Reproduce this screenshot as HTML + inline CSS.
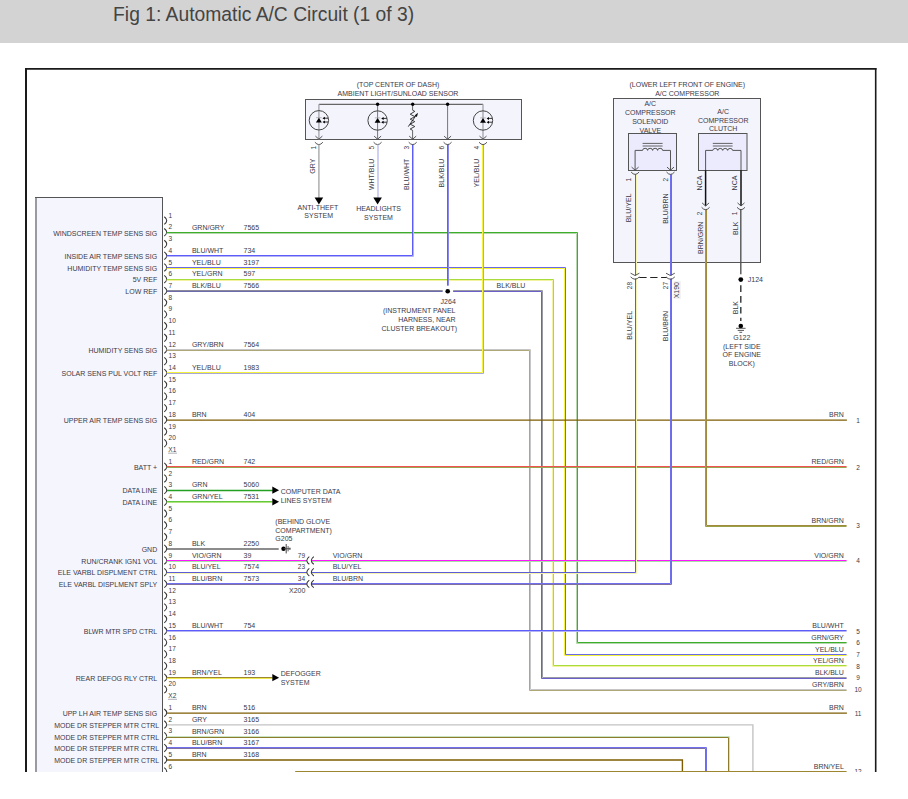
<!DOCTYPE html>
<html><head><meta charset="utf-8"><title>Fig 1: Automatic A/C Circuit (1 of 3)</title>
<style>
html,body{margin:0;padding:0;background:#fff;}
body{width:908px;height:799px;overflow:hidden;font-family:"Liberation Sans",sans-serif;}
svg{display:block;}
text{font-family:"Liberation Sans",sans-serif;}
</style></head>
<body>
<svg width="908" height="799" viewBox="0 0 908 799" font-family="Liberation Sans, sans-serif">
<defs><clipPath id="clip"><rect x="0" y="0" width="908" height="772"/></clipPath></defs>
<rect x="0" y="0" width="908" height="42.6" fill="#d3d3d3"/>
<rect x="0" y="42" width="908" height="0.6" fill="#c8c8c8"/>
<text x="113.1" y="21" font-size="19.3" fill="#444">Fig 1: Automatic A/C Circuit (1 of 3)</text>
<g clip-path="url(#clip)">
<line x1="26" y1="68" x2="26" y2="772" stroke="#1a1a1a" stroke-width="2"/>
<line x1="875.7" y1="68" x2="875.7" y2="772" stroke="#1a1a1a" stroke-width="1.6"/>
<line x1="25" y1="68.8" x2="876.5" y2="68.8" stroke="#1a1a1a" stroke-width="1.7"/>
<rect x="36" y="197.5" width="126.5" height="600" fill="#f5f5fd" stroke="none"/>
<line x1="36" y1="197" x2="36" y2="800" stroke="#9a9aa2" stroke-width="2"/>
<line x1="35" y1="197.5" x2="163" y2="197.5" stroke="#555" stroke-width="1"/>
<line x1="162.5" y1="197" x2="162.5" y2="800" stroke="#555" stroke-width="1"/>
<rect x="305.5" y="99.5" width="216" height="40" fill="#f4f4fd" stroke="#555" stroke-width="1"/>
<rect x="613.5" y="98.5" width="147" height="164" fill="#f4f4fd" stroke="#555" stroke-width="1"/>
<path d="M164.3,216.78 Q169.2,220.58 164.3,224.38" fill="none" stroke="#333" stroke-width="1.05"/>
<text x="168.6" y="217.68" font-size="6.5" text-anchor="start" fill="#3a3a48">1</text>
<path d="M164.3,228.5 Q169.2,232.3 164.3,236.1" fill="none" stroke="#333" stroke-width="1.05"/>
<text x="168.6" y="229.4" font-size="6.5" text-anchor="start" fill="#3a3a48">2</text>
<path d="M164.3,240.22 Q169.2,244.02 164.3,247.82" fill="none" stroke="#333" stroke-width="1.05"/>
<text x="168.6" y="241.12" font-size="6.5" text-anchor="start" fill="#3a3a48">3</text>
<path d="M164.3,251.94 Q169.2,255.74 164.3,259.54" fill="none" stroke="#333" stroke-width="1.05"/>
<text x="168.6" y="252.84" font-size="6.5" text-anchor="start" fill="#3a3a48">4</text>
<path d="M164.3,263.66 Q169.2,267.46 164.3,271.26" fill="none" stroke="#333" stroke-width="1.05"/>
<text x="168.6" y="264.56" font-size="6.5" text-anchor="start" fill="#3a3a48">5</text>
<path d="M164.3,275.38 Q169.2,279.18 164.3,282.98" fill="none" stroke="#333" stroke-width="1.05"/>
<text x="168.6" y="276.28" font-size="6.5" text-anchor="start" fill="#3a3a48">6</text>
<path d="M164.3,287.1 Q169.2,290.9 164.3,294.7" fill="none" stroke="#333" stroke-width="1.05"/>
<text x="168.6" y="288" font-size="6.5" text-anchor="start" fill="#3a3a48">7</text>
<path d="M164.3,298.82 Q169.2,302.62 164.3,306.42" fill="none" stroke="#333" stroke-width="1.05"/>
<text x="168.6" y="299.72" font-size="6.5" text-anchor="start" fill="#3a3a48">8</text>
<path d="M164.3,310.54 Q169.2,314.34 164.3,318.14" fill="none" stroke="#333" stroke-width="1.05"/>
<text x="168.6" y="311.44" font-size="6.5" text-anchor="start" fill="#3a3a48">9</text>
<path d="M164.3,322.26 Q169.2,326.06 164.3,329.86" fill="none" stroke="#333" stroke-width="1.05"/>
<text x="168.6" y="323.16" font-size="6.5" text-anchor="start" fill="#3a3a48">10</text>
<path d="M164.3,333.98 Q169.2,337.78 164.3,341.58" fill="none" stroke="#333" stroke-width="1.05"/>
<text x="168.6" y="334.88" font-size="6.5" text-anchor="start" fill="#3a3a48">11</text>
<path d="M164.3,345.7 Q169.2,349.5 164.3,353.3" fill="none" stroke="#333" stroke-width="1.05"/>
<text x="168.6" y="346.6" font-size="6.5" text-anchor="start" fill="#3a3a48">12</text>
<path d="M164.3,357.42 Q169.2,361.22 164.3,365.02" fill="none" stroke="#333" stroke-width="1.05"/>
<text x="168.6" y="358.32" font-size="6.5" text-anchor="start" fill="#3a3a48">13</text>
<path d="M164.3,369.14 Q169.2,372.94 164.3,376.74" fill="none" stroke="#333" stroke-width="1.05"/>
<text x="168.6" y="370.04" font-size="6.5" text-anchor="start" fill="#3a3a48">14</text>
<path d="M164.3,380.86 Q169.2,384.66 164.3,388.46" fill="none" stroke="#333" stroke-width="1.05"/>
<text x="168.6" y="381.76" font-size="6.5" text-anchor="start" fill="#3a3a48">15</text>
<path d="M164.3,392.58 Q169.2,396.38 164.3,400.18" fill="none" stroke="#333" stroke-width="1.05"/>
<text x="168.6" y="393.48" font-size="6.5" text-anchor="start" fill="#3a3a48">16</text>
<path d="M164.3,404.3 Q169.2,408.1 164.3,411.9" fill="none" stroke="#333" stroke-width="1.05"/>
<text x="168.6" y="405.2" font-size="6.5" text-anchor="start" fill="#3a3a48">17</text>
<path d="M164.3,416.02 Q169.2,419.82 164.3,423.62" fill="none" stroke="#333" stroke-width="1.05"/>
<text x="168.6" y="416.92" font-size="6.5" text-anchor="start" fill="#3a3a48">18</text>
<path d="M164.3,427.74 Q169.2,431.54 164.3,435.34" fill="none" stroke="#333" stroke-width="1.05"/>
<text x="168.6" y="428.64" font-size="6.5" text-anchor="start" fill="#3a3a48">19</text>
<path d="M164.3,439.46 Q169.2,443.26 164.3,447.06" fill="none" stroke="#333" stroke-width="1.05"/>
<text x="168.6" y="440.36" font-size="6.5" text-anchor="start" fill="#3a3a48">20</text>
<text x="168.3" y="451.88" font-size="6.5" text-anchor="start" fill="#3a3a48">X1</text>
<line x1="168" y1="453.18" x2="177" y2="453.18" stroke="#9a9aa8" stroke-width="0.8"/>
<path d="M164.3,462.9 Q169.2,466.7 164.3,470.5" fill="none" stroke="#333" stroke-width="1.05"/>
<text x="168.6" y="463.8" font-size="6.5" text-anchor="start" fill="#3a3a48">1</text>
<path d="M164.3,474.62 Q169.2,478.42 164.3,482.22" fill="none" stroke="#333" stroke-width="1.05"/>
<text x="168.6" y="475.52" font-size="6.5" text-anchor="start" fill="#3a3a48">2</text>
<path d="M164.3,486.34 Q169.2,490.14 164.3,493.94" fill="none" stroke="#333" stroke-width="1.05"/>
<text x="168.6" y="487.24" font-size="6.5" text-anchor="start" fill="#3a3a48">3</text>
<path d="M164.3,498.06 Q169.2,501.86 164.3,505.66" fill="none" stroke="#333" stroke-width="1.05"/>
<text x="168.6" y="498.96" font-size="6.5" text-anchor="start" fill="#3a3a48">4</text>
<path d="M164.3,509.78 Q169.2,513.58 164.3,517.38" fill="none" stroke="#333" stroke-width="1.05"/>
<text x="168.6" y="510.68" font-size="6.5" text-anchor="start" fill="#3a3a48">5</text>
<path d="M164.3,521.5 Q169.2,525.3 164.3,529.1" fill="none" stroke="#333" stroke-width="1.05"/>
<text x="168.6" y="522.4" font-size="6.5" text-anchor="start" fill="#3a3a48">6</text>
<path d="M164.3,533.22 Q169.2,537.02 164.3,540.82" fill="none" stroke="#333" stroke-width="1.05"/>
<text x="168.6" y="534.12" font-size="6.5" text-anchor="start" fill="#3a3a48">7</text>
<path d="M164.3,544.94 Q169.2,548.74 164.3,552.54" fill="none" stroke="#333" stroke-width="1.05"/>
<text x="168.6" y="545.84" font-size="6.5" text-anchor="start" fill="#3a3a48">8</text>
<path d="M164.3,556.66 Q169.2,560.46 164.3,564.26" fill="none" stroke="#333" stroke-width="1.05"/>
<text x="168.6" y="557.56" font-size="6.5" text-anchor="start" fill="#3a3a48">9</text>
<path d="M164.3,568.38 Q169.2,572.18 164.3,575.98" fill="none" stroke="#333" stroke-width="1.05"/>
<text x="168.6" y="569.28" font-size="6.5" text-anchor="start" fill="#3a3a48">10</text>
<path d="M164.3,580.1 Q169.2,583.9 164.3,587.7" fill="none" stroke="#333" stroke-width="1.05"/>
<text x="168.6" y="581" font-size="6.5" text-anchor="start" fill="#3a3a48">11</text>
<path d="M164.3,591.82 Q169.2,595.62 164.3,599.42" fill="none" stroke="#333" stroke-width="1.05"/>
<text x="168.6" y="592.72" font-size="6.5" text-anchor="start" fill="#3a3a48">12</text>
<path d="M164.3,603.54 Q169.2,607.34 164.3,611.14" fill="none" stroke="#333" stroke-width="1.05"/>
<text x="168.6" y="604.44" font-size="6.5" text-anchor="start" fill="#3a3a48">13</text>
<path d="M164.3,615.26 Q169.2,619.06 164.3,622.86" fill="none" stroke="#333" stroke-width="1.05"/>
<text x="168.6" y="616.16" font-size="6.5" text-anchor="start" fill="#3a3a48">14</text>
<path d="M164.3,626.98 Q169.2,630.78 164.3,634.58" fill="none" stroke="#333" stroke-width="1.05"/>
<text x="168.6" y="627.88" font-size="6.5" text-anchor="start" fill="#3a3a48">15</text>
<path d="M164.3,638.7 Q169.2,642.5 164.3,646.3" fill="none" stroke="#333" stroke-width="1.05"/>
<text x="168.6" y="639.6" font-size="6.5" text-anchor="start" fill="#3a3a48">16</text>
<path d="M164.3,650.42 Q169.2,654.22 164.3,658.02" fill="none" stroke="#333" stroke-width="1.05"/>
<text x="168.6" y="651.32" font-size="6.5" text-anchor="start" fill="#3a3a48">17</text>
<path d="M164.3,662.14 Q169.2,665.94 164.3,669.74" fill="none" stroke="#333" stroke-width="1.05"/>
<text x="168.6" y="663.04" font-size="6.5" text-anchor="start" fill="#3a3a48">18</text>
<path d="M164.3,673.86 Q169.2,677.66 164.3,681.46" fill="none" stroke="#333" stroke-width="1.05"/>
<text x="168.6" y="674.76" font-size="6.5" text-anchor="start" fill="#3a3a48">19</text>
<path d="M164.3,685.58 Q169.2,689.38 164.3,693.18" fill="none" stroke="#333" stroke-width="1.05"/>
<text x="168.6" y="686.48" font-size="6.5" text-anchor="start" fill="#3a3a48">20</text>
<text x="168.3" y="698" font-size="6.5" text-anchor="start" fill="#3a3a48">X2</text>
<line x1="168" y1="699.3" x2="177" y2="699.3" stroke="#9a9aa8" stroke-width="0.8"/>
<path d="M164.3,709.02 Q169.2,712.82 164.3,716.62" fill="none" stroke="#333" stroke-width="1.05"/>
<text x="168.6" y="709.92" font-size="6.5" text-anchor="start" fill="#3a3a48">1</text>
<path d="M164.3,720.74 Q169.2,724.54 164.3,728.34" fill="none" stroke="#333" stroke-width="1.05"/>
<text x="168.6" y="721.64" font-size="6.5" text-anchor="start" fill="#3a3a48">2</text>
<path d="M164.3,732.46 Q169.2,736.26 164.3,740.06" fill="none" stroke="#333" stroke-width="1.05"/>
<text x="168.6" y="733.36" font-size="6.5" text-anchor="start" fill="#3a3a48">3</text>
<path d="M164.3,744.18 Q169.2,747.98 164.3,751.78" fill="none" stroke="#333" stroke-width="1.05"/>
<text x="168.6" y="745.08" font-size="6.5" text-anchor="start" fill="#3a3a48">4</text>
<path d="M164.3,755.9 Q169.2,759.7 164.3,763.5" fill="none" stroke="#333" stroke-width="1.05"/>
<text x="168.6" y="756.8" font-size="6.5" text-anchor="start" fill="#3a3a48">5</text>
<path d="M164.3,767.62 Q169.2,771.42 164.3,775.22" fill="none" stroke="#333" stroke-width="1.05"/>
<text x="168.6" y="768.52" font-size="6.5" text-anchor="start" fill="#3a3a48">6</text>
<text x="157.2" y="235.6" font-size="7.0" text-anchor="end" fill="#3a3a48">WINDSCREEN TEMP SENS SIG</text>
<text x="157.2" y="259.04" font-size="7.0" text-anchor="end" fill="#3a3a48">INSIDE AIR TEMP SENS SIG</text>
<text x="157.2" y="270.76" font-size="7.0" text-anchor="end" fill="#3a3a48">HUMIDITY TEMP SENS SIG</text>
<text x="157.2" y="282.48" font-size="7.0" text-anchor="end" fill="#3a3a48">5V REF</text>
<text x="157.2" y="294.2" font-size="7.0" text-anchor="end" fill="#3a3a48">LOW REF</text>
<text x="157.2" y="352.8" font-size="7.0" text-anchor="end" fill="#3a3a48">HUMIDITY SENS SIG</text>
<text x="157.2" y="376.24" font-size="7.0" text-anchor="end" fill="#3a3a48">SOLAR SENS PUL VOLT REF</text>
<text x="157.2" y="423.12" font-size="7.0" text-anchor="end" fill="#3a3a48">UPPER AIR TEMP SENS SIG</text>
<text x="157.2" y="470" font-size="7.0" text-anchor="end" fill="#3a3a48">BATT +</text>
<text x="157.2" y="493.44" font-size="7.0" text-anchor="end" fill="#3a3a48">DATA LINE</text>
<text x="157.2" y="505.16" font-size="7.0" text-anchor="end" fill="#3a3a48">DATA LINE</text>
<text x="157.2" y="552.04" font-size="7.0" text-anchor="end" fill="#3a3a48">GND</text>
<text x="157.2" y="563.76" font-size="7.0" text-anchor="end" fill="#3a3a48">RUN/CRANK IGN1 VOL</text>
<text x="157.2" y="575.48" font-size="7.0" text-anchor="end" fill="#3a3a48">ELE VARBL DISPLMENT CTRL</text>
<text x="157.2" y="587.2" font-size="7.0" text-anchor="end" fill="#3a3a48">ELE VARBL DISPLMENT SPLY</text>
<text x="157.2" y="634.08" font-size="7.0" text-anchor="end" fill="#3a3a48">BLWR MTR SPD CTRL</text>
<text x="157.2" y="680.96" font-size="7.0" text-anchor="end" fill="#3a3a48">REAR DEFOG RLY CTRL</text>
<text x="157.2" y="716.12" font-size="7.0" text-anchor="end" fill="#3a3a48">UPP LH AIR TEMP SENS SIG</text>
<text x="159.2" y="727.84" font-size="7.0" text-anchor="end" fill="#3a3a48">MODE DR STEPPER MTR CTRL</text>
<text x="159.2" y="739.56" font-size="7.0" text-anchor="end" fill="#3a3a48">MODE DR STEPPER MTR CTRL</text>
<text x="159.2" y="751.28" font-size="7.0" text-anchor="end" fill="#3a3a48">MODE DR STEPPER MTR CTRL</text>
<text x="159.2" y="763" font-size="7.0" text-anchor="end" fill="#3a3a48">MODE DR STEPPER MTR CTRL</text>
<text x="191.9" y="229.6" font-size="7.0" text-anchor="start" fill="#3a3a48">GRN/GRY</text>
<text x="243.5" y="229.6" font-size="7.0" text-anchor="start" fill="#3a3a48">7565</text>
<text x="191.9" y="253.04" font-size="7.0" text-anchor="start" fill="#3a3a48">BLU/WHT</text>
<text x="243.5" y="253.04" font-size="7.0" text-anchor="start" fill="#3a3a48">734</text>
<text x="191.9" y="264.76" font-size="7.0" text-anchor="start" fill="#3a3a48">YEL/BLU</text>
<text x="243.5" y="264.76" font-size="7.0" text-anchor="start" fill="#3a3a48">3197</text>
<text x="191.9" y="276.48" font-size="7.0" text-anchor="start" fill="#3a3a48">YEL/GRN</text>
<text x="243.5" y="276.48" font-size="7.0" text-anchor="start" fill="#3a3a48">597</text>
<text x="191.9" y="288.2" font-size="7.0" text-anchor="start" fill="#3a3a48">BLK/BLU</text>
<text x="243.5" y="288.2" font-size="7.0" text-anchor="start" fill="#3a3a48">7566</text>
<text x="191.9" y="346.8" font-size="7.0" text-anchor="start" fill="#3a3a48">GRY/BRN</text>
<text x="243.5" y="346.8" font-size="7.0" text-anchor="start" fill="#3a3a48">7564</text>
<text x="191.9" y="370.24" font-size="7.0" text-anchor="start" fill="#3a3a48">YEL/BLU</text>
<text x="243.5" y="370.24" font-size="7.0" text-anchor="start" fill="#3a3a48">1983</text>
<text x="191.9" y="417.12" font-size="7.0" text-anchor="start" fill="#3a3a48">BRN</text>
<text x="243.5" y="417.12" font-size="7.0" text-anchor="start" fill="#3a3a48">404</text>
<text x="191.9" y="464" font-size="7.0" text-anchor="start" fill="#3a3a48">RED/GRN</text>
<text x="243.5" y="464" font-size="7.0" text-anchor="start" fill="#3a3a48">742</text>
<text x="191.9" y="487.44" font-size="7.0" text-anchor="start" fill="#3a3a48">GRN</text>
<text x="243.5" y="487.44" font-size="7.0" text-anchor="start" fill="#3a3a48">5060</text>
<text x="191.9" y="499.16" font-size="7.0" text-anchor="start" fill="#3a3a48">GRN/YEL</text>
<text x="243.5" y="499.16" font-size="7.0" text-anchor="start" fill="#3a3a48">7531</text>
<text x="191.9" y="546.04" font-size="7.0" text-anchor="start" fill="#3a3a48">BLK</text>
<text x="243.5" y="546.04" font-size="7.0" text-anchor="start" fill="#3a3a48">2250</text>
<text x="191.9" y="557.76" font-size="7.0" text-anchor="start" fill="#3a3a48">VIO/GRN</text>
<text x="243.5" y="557.76" font-size="7.0" text-anchor="start" fill="#3a3a48">39</text>
<text x="191.9" y="569.48" font-size="7.0" text-anchor="start" fill="#3a3a48">BLU/YEL</text>
<text x="243.5" y="569.48" font-size="7.0" text-anchor="start" fill="#3a3a48">7574</text>
<text x="191.9" y="581.2" font-size="7.0" text-anchor="start" fill="#3a3a48">BLU/BRN</text>
<text x="243.5" y="581.2" font-size="7.0" text-anchor="start" fill="#3a3a48">7573</text>
<text x="191.9" y="628.08" font-size="7.0" text-anchor="start" fill="#3a3a48">BLU/WHT</text>
<text x="243.5" y="628.08" font-size="7.0" text-anchor="start" fill="#3a3a48">754</text>
<text x="191.9" y="674.96" font-size="7.0" text-anchor="start" fill="#3a3a48">BRN/YEL</text>
<text x="243.5" y="674.96" font-size="7.0" text-anchor="start" fill="#3a3a48">193</text>
<text x="191.9" y="710.12" font-size="7.0" text-anchor="start" fill="#3a3a48">BRN</text>
<text x="243.5" y="710.12" font-size="7.0" text-anchor="start" fill="#3a3a48">516</text>
<text x="191.9" y="721.84" font-size="7.0" text-anchor="start" fill="#3a3a48">GRY</text>
<text x="243.5" y="721.84" font-size="7.0" text-anchor="start" fill="#3a3a48">3165</text>
<text x="191.9" y="733.56" font-size="7.0" text-anchor="start" fill="#3a3a48">BRN/GRN</text>
<text x="243.5" y="733.56" font-size="7.0" text-anchor="start" fill="#3a3a48">3166</text>
<text x="191.9" y="745.28" font-size="7.0" text-anchor="start" fill="#3a3a48">BLU/BRN</text>
<text x="243.5" y="745.28" font-size="7.0" text-anchor="start" fill="#3a3a48">3167</text>
<text x="191.9" y="757" font-size="7.0" text-anchor="start" fill="#3a3a48">BRN</text>
<text x="243.5" y="757" font-size="7.0" text-anchor="start" fill="#3a3a48">3168</text>
<text x="843.8" y="417.12" font-size="7.0" text-anchor="end" fill="#3a3a48">BRN</text>
<text x="858" y="422.62" font-size="6.5" text-anchor="middle" fill="#3a3a48">1</text>
<text x="843.8" y="464" font-size="7.0" text-anchor="end" fill="#3a3a48">RED/GRN</text>
<text x="858" y="469.5" font-size="6.5" text-anchor="middle" fill="#3a3a48">2</text>
<text x="843.8" y="522.6" font-size="7.0" text-anchor="end" fill="#3a3a48">BRN/GRN</text>
<text x="858" y="528.1" font-size="6.5" text-anchor="middle" fill="#3a3a48">3</text>
<text x="843.8" y="557.76" font-size="7.0" text-anchor="end" fill="#3a3a48">VIO/GRN</text>
<text x="858" y="563.26" font-size="6.5" text-anchor="middle" fill="#3a3a48">4</text>
<text x="843.8" y="628.08" font-size="7.0" text-anchor="end" fill="#3a3a48">BLU/WHT</text>
<text x="858" y="633.58" font-size="6.5" text-anchor="middle" fill="#3a3a48">5</text>
<text x="843.8" y="639.8" font-size="7.0" text-anchor="end" fill="#3a3a48">GRN/GRY</text>
<text x="858" y="645.3" font-size="6.5" text-anchor="middle" fill="#3a3a48">6</text>
<text x="843.8" y="651.52" font-size="7.0" text-anchor="end" fill="#3a3a48">YEL/BLU</text>
<text x="858" y="657.02" font-size="6.5" text-anchor="middle" fill="#3a3a48">7</text>
<text x="843.8" y="663.24" font-size="7.0" text-anchor="end" fill="#3a3a48">YEL/GRN</text>
<text x="858" y="668.74" font-size="6.5" text-anchor="middle" fill="#3a3a48">8</text>
<text x="843.8" y="674.96" font-size="7.0" text-anchor="end" fill="#3a3a48">BLK/BLU</text>
<text x="858" y="680.46" font-size="6.5" text-anchor="middle" fill="#3a3a48">9</text>
<text x="843.8" y="686.68" font-size="7.0" text-anchor="end" fill="#3a3a48">GRY/BRN</text>
<text x="858" y="692.18" font-size="6.5" text-anchor="middle" fill="#3a3a48">10</text>
<text x="843.8" y="710.12" font-size="7.0" text-anchor="end" fill="#3a3a48">BRN</text>
<text x="858" y="715.62" font-size="6.5" text-anchor="middle" fill="#3a3a48">11</text>
<text x="843.8" y="768.72" font-size="7.0" text-anchor="end" fill="#3a3a48">BRN/YEL</text>
<text x="858" y="774.22" font-size="6.5" text-anchor="middle" fill="#3a3a48">12</text>
<polyline points="166.6,232.5 577.5,232.5 577.5,642.5 846.6,642.5" fill="none" stroke="#3cae2c" stroke-width="1"/>
<polyline points="166.6,233.5 576.5,233.5 576.5,643.5 846.6,643.5" fill="none" stroke="#b4d8ac" stroke-width="1"/>
<polyline points="166.6,267.5 565.5,267.5 565.5,654.5 846.6,654.5" fill="none" stroke="#6a6ae8" stroke-width="1"/>
<polyline points="166.6,268.5 564.5,268.5 564.5,655.5 846.6,655.5" fill="none" stroke="#f4f23c" stroke-width="1"/>
<polyline points="166.6,279.5 553.5,279.5 553.5,665.5 846.6,665.5" fill="none" stroke="#a8dc3c" stroke-width="1"/>
<polyline points="166.6,280.5 552.5,280.5 552.5,666.5 846.6,666.5" fill="none" stroke="#f2f2a0" stroke-width="1"/>
<polyline points="453.1,290.5 542.5,290.5 542.5,677.5 846.6,677.5" fill="none" stroke="#9a9aa4" stroke-width="1"/>
<polyline points="453.1,291.5 541.5,291.5 541.5,678.5 846.6,678.5" fill="none" stroke="#6a60c8" stroke-width="1"/>
<polyline points="166.6,290.5 442.7,290.5" fill="none" stroke="#8a8a9c" stroke-width="1"/>
<polyline points="166.6,291.5 442.7,291.5" fill="none" stroke="#6c6cac" stroke-width="1"/>
<polyline points="166.6,349.5 530.5,349.5 530.5,689.5 846.6,689.5" fill="none" stroke="#c6c6c6" stroke-width="1"/>
<polyline points="166.6,350.5 529.5,350.5 529.5,690.5 846.6,690.5" fill="none" stroke="#aea878" stroke-width="1"/>
<polyline points="166.6,255.5 412.5,255.5 412.5,144.4" fill="none" stroke="#5c5cfa" stroke-width="1"/>
<polyline points="166.6,256.5 413.5,256.5 413.5,144.4" fill="none" stroke="#b4b4f4" stroke-width="1"/>
<polyline points="166.6,372.5 482.5,372.5 482.5,144.4" fill="none" stroke="#f4f23c" stroke-width="1"/>
<polyline points="166.6,373.5 483.5,373.5 483.5,144.4" fill="none" stroke="#a8a8d8" stroke-width="1"/>
<polyline points="447.5,285.7 447.5,144.4" fill="none" stroke="#707070" stroke-width="1"/>
<polyline points="448.5,285.7 448.5,144.4" fill="none" stroke="#8888f0" stroke-width="1"/>
<polyline points="166.9,420.12 846.9,420.12" fill="none" stroke="#7e5c02" stroke-width="1.4"/>
<polyline points="166.6,466.5 846.6,466.5" fill="none" stroke="#f25252" stroke-width="1"/>
<polyline points="166.6,467.5 846.6,467.5" fill="none" stroke="#98a850" stroke-width="1"/>
<polyline points="166.9,490.44 272.8,490.44" fill="none" stroke="#22a022" stroke-width="1.4"/>
<polyline points="166.6,501.5 272.5,501.5" fill="none" stroke="#62c83c" stroke-width="1"/>
<polyline points="166.6,502.5 272.5,502.5" fill="none" stroke="#b0e480" stroke-width="1"/>
<polyline points="166.9,549.04 278.7,549.04" fill="none" stroke="#666666" stroke-width="1.4"/>
<polyline points="166.6,560.5 306.8,560.5" fill="none" stroke="#ff14ff" stroke-width="1"/>
<polyline points="166.6,561.5 306.8,561.5" fill="none" stroke="#a8e0a8" stroke-width="1"/>
<polyline points="311.4,560.5 846.6,560.5" fill="none" stroke="#ff14ff" stroke-width="1"/>
<polyline points="311.4,561.5 846.6,561.5" fill="none" stroke="#a8e0a8" stroke-width="1"/>
<polyline points="166.6,572.5 306.8,572.5" fill="none" stroke="#5c5cd8" stroke-width="1"/>
<polyline points="166.6,573.5 306.8,573.5" fill="none" stroke="#f4f4b0" stroke-width="1"/>
<polyline points="311.4,572.5 635.5,572.5 635.5,278.6" fill="none" stroke="#5c5cd8" stroke-width="1"/>
<polyline points="311.4,573.5 636.5,573.5 636.5,278.6" fill="none" stroke="#f4f4b0" stroke-width="1"/>
<polyline points="635.5,275.5 635.5,174.4" fill="none" stroke="#5c5cd8" stroke-width="1"/>
<polyline points="636.5,275.5 636.5,174.4" fill="none" stroke="#f4f4b0" stroke-width="1"/>
<polyline points="166.6,583.5 306.8,583.5" fill="none" stroke="#7070ee" stroke-width="1"/>
<polyline points="166.6,584.5 306.8,584.5" fill="none" stroke="#8070a0" stroke-width="1"/>
<polyline points="311.4,583.5 670.5,583.5 670.5,278.6" fill="none" stroke="#7070ee" stroke-width="1"/>
<polyline points="311.4,584.5 671.5,584.5 671.5,278.6" fill="none" stroke="#8070a0" stroke-width="1"/>
<polyline points="670.5,275.5 670.5,174.4" fill="none" stroke="#7070ee" stroke-width="1"/>
<polyline points="671.5,275.5 671.5,174.4" fill="none" stroke="#8070a0" stroke-width="1"/>
<polyline points="166.6,630.5 846.6,630.5" fill="none" stroke="#5c5cfa" stroke-width="1"/>
<polyline points="166.6,631.5 846.6,631.5" fill="none" stroke="#b4b4f4" stroke-width="1"/>
<polyline points="166.6,677.5 272.5,677.5" fill="none" stroke="#9c8630" stroke-width="1"/>
<polyline points="166.6,678.5 272.5,678.5" fill="none" stroke="#f0ea50" stroke-width="1"/>
<polyline points="166.9,713.12 846.9,713.12" fill="none" stroke="#7e5c02" stroke-width="1.4"/>
<polyline points="166.9,724.84 752.9,724.84 752.9,790.3" fill="none" stroke="#c4c4c4" stroke-width="1.4"/>
<polyline points="166.6,736.5 729.5,736.5 729.5,790" fill="none" stroke="#c8e4c0" stroke-width="1"/>
<polyline points="166.6,737.5 728.5,737.5 728.5,790" fill="none" stroke="#8c7c2c" stroke-width="1"/>
<polyline points="166.6,747.5 706.5,747.5 706.5,790" fill="none" stroke="#7070ee" stroke-width="1"/>
<polyline points="166.6,748.5 705.5,748.5 705.5,790" fill="none" stroke="#8070a0" stroke-width="1"/>
<polyline points="166.9,760 682.4,760 682.4,790.3" fill="none" stroke="#7e5c02" stroke-width="1.4"/>
<polyline points="295.2,771.5 846.6,771.5" fill="none" stroke="#9c8630" stroke-width="1"/>
<polyline points="295.2,772.5 846.6,772.5" fill="none" stroke="#f0ea50" stroke-width="1"/>
<polyline points="706.5,209.3 706.5,525.5 846.6,525.5" fill="none" stroke="#a08a3c" stroke-width="1"/>
<polyline points="705.5,209.3 705.5,526.5 846.6,526.5" fill="none" stroke="#9aa048" stroke-width="1"/>
<line x1="740.8" y1="209.3" x2="740.8" y2="274.2" stroke="#555" stroke-width="1.4"/>
<line x1="740.8" y1="285.3" x2="740.8" y2="321" stroke="#333" stroke-width="1.4" stroke-dasharray="6.6 4.2"/>
<path d="M272.3,486.54 L279.1,490.14 L272.3,493.74 Z" fill="#000"/>
<path d="M272.3,498.26 L279.1,501.86 L272.3,505.46 Z" fill="#000"/>
<path d="M272.3,674.06 L279.1,677.66 L272.3,681.26 Z" fill="#000"/>
<text x="280.7" y="494.3" font-size="7.0" text-anchor="start" fill="#3a3a48">COMPUTER DATA</text>
<text x="280.7" y="503.4" font-size="7.0" text-anchor="start" fill="#3a3a48">LINES SYSTEM</text>
<text x="280.7" y="676.2" font-size="7.0" text-anchor="start" fill="#3a3a48">DEFOGGER</text>
<text x="280.7" y="685.2" font-size="7.0" text-anchor="start" fill="#3a3a48">SYSTEM</text>
<circle cx="283.5" cy="548.74" r="2.2" fill="#000"/>
<line x1="283.5" y1="548.74" x2="290.5" y2="548.74" stroke="#444" stroke-width="0.9"/>
<line x1="286.2" y1="544.04" x2="286.2" y2="553.44" stroke="#444" stroke-width="1"/>
<line x1="288.1" y1="546.14" x2="288.1" y2="551.34" stroke="#444" stroke-width="0.9"/>
<line x1="289.9" y1="547.54" x2="289.9" y2="549.94" stroke="#444" stroke-width="0.9"/>
<text x="275.3" y="524.2" font-size="7.0" text-anchor="start" fill="#3a3a48">(BEHIND GLOVE</text>
<text x="275.3" y="533" font-size="7.0" text-anchor="start" fill="#3a3a48">COMPARTMENT)</text>
<text x="275.3" y="541" font-size="7.0" text-anchor="start" fill="#3a3a48">G205</text>
<path d="M309.3,556.66 Q304.3,560.46 309.3,564.26" fill="none" stroke="#333" stroke-width="1.05"/>
<path d="M313.8,556.66 Q308.8,560.46 313.8,564.26" fill="none" stroke="#333" stroke-width="1.05"/>
<text x="297.8" y="557.76" font-size="6.5" text-anchor="start" fill="#3a3a48">79</text>
<path d="M309.3,568.38 Q304.3,572.18 309.3,575.98" fill="none" stroke="#333" stroke-width="1.05"/>
<path d="M313.8,568.38 Q308.8,572.18 313.8,575.98" fill="none" stroke="#333" stroke-width="1.05"/>
<text x="297.8" y="569.48" font-size="6.5" text-anchor="start" fill="#3a3a48">23</text>
<path d="M309.3,580.1 Q304.3,583.9 309.3,587.7" fill="none" stroke="#333" stroke-width="1.05"/>
<path d="M313.8,580.1 Q308.8,583.9 313.8,587.7" fill="none" stroke="#333" stroke-width="1.05"/>
<text x="297.8" y="581.2" font-size="6.5" text-anchor="start" fill="#3a3a48">34</text>
<text x="289" y="593.2" font-size="7.0" text-anchor="start" fill="#3a3a48">X200</text>
<text x="332.7" y="557.76" font-size="7.0" text-anchor="start" fill="#3a3a48">VIO/GRN</text>
<text x="332.7" y="569.48" font-size="7.0" text-anchor="start" fill="#3a3a48">BLU/YEL</text>
<text x="332.7" y="581.2" font-size="7.0" text-anchor="start" fill="#3a3a48">BLU/BRN</text>
<circle cx="447.7" cy="291.2" r="2.3" fill="#000"/>
<text x="455.8" y="304.3" font-size="7.0" text-anchor="end" fill="#3a3a48">J264</text>
<text x="455.5" y="312.8" font-size="7.0" text-anchor="end" fill="#3a3a48">(INSTRUMENT PANEL</text>
<text x="455.5" y="322.1" font-size="7.0" text-anchor="end" fill="#3a3a48">HARNESS, NEAR</text>
<text x="457" y="331.1" font-size="7.0" text-anchor="end" fill="#3a3a48">CLUSTER BREAKOUT)</text>
<text x="496.6" y="287.9" font-size="7.0" text-anchor="start" fill="#3a3a48">BLK/BLU</text>
<text x="398" y="87" font-size="7.0" text-anchor="middle" fill="#3a3a48">(TOP CENTER OF DASH)</text>
<text x="398" y="96" font-size="7.0" text-anchor="middle" fill="#3a3a48">AMBIENT LIGHT/SUNLOAD SENSOR</text>
<line x1="318.9" y1="104.3" x2="483" y2="104.3" stroke="#666" stroke-width="1.3"/>
<line x1="318.9" y1="104.3" x2="318.9" y2="139.4" stroke="#a8a8b0" stroke-width="1.4"/>
<line x1="377.6" y1="104.3" x2="377.6" y2="139.4" stroke="#777" stroke-width="1"/>
<line x1="412.6" y1="104.3" x2="412.6" y2="110.2" stroke="#666" stroke-width="1"/>
<line x1="412.6" y1="130.4" x2="412.6" y2="139.4" stroke="#666" stroke-width="1"/>
<line x1="447.6" y1="104.3" x2="447.6" y2="139.4" stroke="#777" stroke-width="1"/>
<line x1="483" y1="104.3" x2="483" y2="139.4" stroke="#a8a8b0" stroke-width="1.4"/>
<circle cx="377.6" cy="104.3" r="1.7" fill="#000"/>
<circle cx="412.7" cy="104.3" r="1.7" fill="#000"/>
<circle cx="447.6" cy="104.3" r="1.7" fill="#000"/>
<circle cx="318.9" cy="120.3" r="9.7" fill="none" stroke="#444" stroke-width="1"/>
<path d="M318.9,117.7 L321.9,122.5 L315.9,122.5 Z" fill="#000"/>
<line x1="316.1" y1="117.7" x2="321.7" y2="117.7" stroke="#999" stroke-width="0.7"/>
<line x1="323.9" y1="118.2" x2="328.1" y2="118.2" stroke="#222" stroke-width="0.9"/>
<path d="M322.5,118.2 L324.9,116.7 L324.9,119.7 Z" fill="#000"/>
<line x1="323.9" y1="122" x2="328.1" y2="122" stroke="#222" stroke-width="0.9"/>
<path d="M322.5,122 L324.9,120.5 L324.9,123.5 Z" fill="#000"/>
<circle cx="377.6" cy="120.5" r="9.7" fill="none" stroke="#444" stroke-width="1"/>
<path d="M377.6,117.9 L380.6,122.7 L374.6,122.7 Z" fill="#000"/>
<line x1="374.8" y1="117.9" x2="380.4" y2="117.9" stroke="#999" stroke-width="0.7"/>
<line x1="382.6" y1="118.4" x2="386.8" y2="118.4" stroke="#222" stroke-width="0.9"/>
<path d="M381.2,118.4 L383.6,116.9 L383.6,119.9 Z" fill="#000"/>
<line x1="382.6" y1="122.2" x2="386.8" y2="122.2" stroke="#222" stroke-width="0.9"/>
<path d="M381.2,122.2 L383.6,120.7 L383.6,123.7 Z" fill="#000"/>
<circle cx="483" cy="120.5" r="9.7" fill="none" stroke="#444" stroke-width="1"/>
<path d="M483,117.9 L486,122.7 L480,122.7 Z" fill="#000"/>
<line x1="480.2" y1="117.9" x2="485.8" y2="117.9" stroke="#999" stroke-width="0.7"/>
<line x1="488" y1="118.4" x2="492.2" y2="118.4" stroke="#222" stroke-width="0.9"/>
<path d="M486.6,118.4 L489,116.9 L489,119.9 Z" fill="#000"/>
<line x1="488" y1="122.2" x2="492.2" y2="122.2" stroke="#222" stroke-width="0.9"/>
<path d="M486.6,122.2 L489,120.7 L489,123.7 Z" fill="#000"/>
<polyline points="412.6,110.2 414.8,111.4 410.2,114.2 414.8,116.6 410.2,119.2 414.8,121.6 410.2,124.2 414.8,126.5 410.2,129 412.6,130.4" fill="none" stroke="#333" stroke-width="0.95"/>
<line x1="408.3" y1="126.6" x2="416.6" y2="114.6" stroke="#222" stroke-width="0.95"/>
<path d="M418.0,112.8 L414.6,115.4 L416.9,117.0 Z" fill="#111"/>
<path d="M315.4,136.1 L318.9,139.2 L322.4,136.1" fill="none" stroke="#444" stroke-width="0.9"/>
<path d="M314.9,142.2 Q318.9,147 322.9,142.2" fill="none" stroke="#444" stroke-width="0.9"/>
<path d="M374.1,136.1 L377.6,139.2 L381.1,136.1" fill="none" stroke="#444" stroke-width="0.9"/>
<path d="M373.6,142.2 Q377.6,147 381.6,142.2" fill="none" stroke="#444" stroke-width="0.9"/>
<path d="M409.2,136.1 L412.7,139.2 L416.2,136.1" fill="none" stroke="#444" stroke-width="0.9"/>
<path d="M408.7,142.2 Q412.7,147 416.7,142.2" fill="none" stroke="#444" stroke-width="0.9"/>
<path d="M444.1,136.1 L447.6,139.2 L451.1,136.1" fill="none" stroke="#444" stroke-width="0.9"/>
<path d="M443.6,142.2 Q447.6,147 451.6,142.2" fill="none" stroke="#444" stroke-width="0.9"/>
<path d="M479.5,136.1 L483,139.2 L486.5,136.1" fill="none" stroke="#444" stroke-width="0.9"/>
<path d="M479,142.2 Q483,147 487,142.2" fill="none" stroke="#444" stroke-width="0.9"/>
<line x1="318.9" y1="144.4" x2="318.9" y2="198" stroke="#a8a8a8" stroke-width="1.4"/>
<line x1="378" y1="144.4" x2="378" y2="198" stroke="#b0b0ee" stroke-width="1.2"/>
<path d="M314.6,197.4 L323.2,197.4 L318.9,204.4 Z" fill="#000"/>
<path d="M373.3,197.4 L381.9,197.4 L377.6,204.4 Z" fill="#000"/>
<text x="317.9" y="209.8" font-size="7.0" text-anchor="middle" fill="#3a3a48">ANTI-THEFT</text>
<text x="318.7" y="218" font-size="7.0" text-anchor="middle" fill="#3a3a48">SYSTEM</text>
<text x="378.5" y="211.4" font-size="7.0" text-anchor="middle" fill="#3a3a48">HEADLIGHTS</text>
<text x="378.5" y="220" font-size="7.0" text-anchor="middle" fill="#3a3a48">SYSTEM</text>
<text transform="translate(315.67,147.8) rotate(-90)" font-size="6.5" text-anchor="middle" fill="#3a3a48">1</text>
<text transform="translate(373.57,147.8) rotate(-90)" font-size="6.5" text-anchor="middle" fill="#3a3a48">5</text>
<text transform="translate(408.97,147.8) rotate(-90)" font-size="6.5" text-anchor="middle" fill="#3a3a48">3</text>
<text transform="translate(443.77,147.8) rotate(-90)" font-size="6.5" text-anchor="middle" fill="#3a3a48">6</text>
<text transform="translate(479.37,147.8) rotate(-90)" font-size="6.5" text-anchor="middle" fill="#3a3a48">4</text>
<text transform="translate(315.35,158.6) rotate(-90)" font-size="7.0" text-anchor="end" fill="#3a3a48">GRY</text>
<text transform="translate(373.55,158.6) rotate(-90)" font-size="7.0" text-anchor="end" fill="#3a3a48">WHT/BLU</text>
<text transform="translate(409.15,158.6) rotate(-90)" font-size="7.0" text-anchor="end" fill="#3a3a48">BLU/WHT</text>
<text transform="translate(443.95,158.6) rotate(-90)" font-size="7.0" text-anchor="end" fill="#3a3a48">BLK/BLU</text>
<text transform="translate(479.15,158.6) rotate(-90)" font-size="7.0" text-anchor="end" fill="#3a3a48">YEL/BLU</text>
<text x="687.3" y="87" font-size="7.0" text-anchor="middle" fill="#3a3a48">(LOWER LEFT FRONT OF ENGINE)</text>
<text x="687.3" y="96" font-size="7.0" text-anchor="middle" fill="#3a3a48">A/C COMPRESSOR</text>
<text x="650.3" y="106.4" font-size="7.0" text-anchor="middle" fill="#3a3a48">A/C</text>
<text x="650.3" y="115.25" font-size="7.0" text-anchor="middle" fill="#3a3a48">COMPRESSOR</text>
<text x="650.3" y="124.1" font-size="7.0" text-anchor="middle" fill="#3a3a48">SOLENOID</text>
<text x="650.3" y="132.95" font-size="7.0" text-anchor="middle" fill="#3a3a48">VALVE</text>
<text x="723.2" y="114.3" font-size="7.0" text-anchor="middle" fill="#3a3a48">A/C</text>
<text x="723.2" y="122.8" font-size="7.0" text-anchor="middle" fill="#3a3a48">COMPRESSOR</text>
<text x="723.2" y="131.3" font-size="7.0" text-anchor="middle" fill="#3a3a48">CLUTCH</text>
<rect x="628.5" y="133.5" width="48" height="37" fill="#ebebfd" stroke="#555" stroke-width="1"/>
<line x1="642.6" y1="143.4" x2="662.6" y2="143.4" stroke="#555" stroke-width="0.9"/>
<line x1="642.6" y1="146" x2="662.6" y2="146" stroke="#555" stroke-width="0.9"/>
<path d="M635.1,170.3 L635.1,150.4 L642.6,150.4 A2.5,2.1 0 0 1 647.6,150.4 A2.5,2.1 0 0 1 652.6,150.4 A2.5,2.1 0 0 1 657.6,150.4 A2.5,2.1 0 0 1 662.6,150.4 L670.5,150.4 L670.5,170.3" fill="none" stroke="#555" stroke-width="1"/>
<rect x="698.5" y="133.5" width="48.5" height="37" fill="#ebebfd" stroke="#555" stroke-width="1"/>
<line x1="712.8" y1="143.4" x2="732.6" y2="143.4" stroke="#555" stroke-width="0.9"/>
<line x1="712.8" y1="146" x2="732.6" y2="146" stroke="#555" stroke-width="0.9"/>
<path d="M705.6,170.3 L705.6,150.4 L712.8,150.4 A2.48,2.1 0 0 1 717.75,150.4 A2.48,2.1 0 0 1 722.7,150.4 A2.48,2.1 0 0 1 727.65,150.4 A2.48,2.1 0 0 1 732.6,150.4 L741,150.4 L741,170.3" fill="none" stroke="#555" stroke-width="1"/>
<path d="M631.6,167.1 L635.1,170.2 L638.6,167.1" fill="none" stroke="#444" stroke-width="0.9"/>
<path d="M631.1,172 Q635.1,176.8 639.1,172" fill="none" stroke="#444" stroke-width="0.9"/>
<path d="M667,167.1 L670.5,170.2 L674,167.1" fill="none" stroke="#444" stroke-width="0.9"/>
<path d="M666.5,172 Q670.5,176.8 674.5,172" fill="none" stroke="#444" stroke-width="0.9"/>
<line x1="705.6" y1="170.3" x2="705.6" y2="205.8" stroke="#111" stroke-width="1.5"/>
<line x1="741" y1="170.3" x2="741" y2="205.8" stroke="#111" stroke-width="1.5"/>
<path d="M702.1,202.9 L705.6,206 L709.1,202.9" fill="none" stroke="#444" stroke-width="0.9"/>
<path d="M701.6,207.3 Q705.6,212.1 709.6,207.3" fill="none" stroke="#444" stroke-width="0.9"/>
<path d="M737.5,202.9 L741,206 L744.5,202.9" fill="none" stroke="#444" stroke-width="0.9"/>
<path d="M737,207.3 Q741,212.1 745,207.3" fill="none" stroke="#444" stroke-width="0.9"/>
<text transform="translate(701.95,175.6) rotate(-90)" font-size="7.0" text-anchor="end" fill="#3a3a48">NCA</text>
<text transform="translate(737.35,175.6) rotate(-90)" font-size="7.0" text-anchor="end" fill="#3a3a48">NCA</text>
<text transform="translate(630.67,179.8) rotate(-90)" font-size="6.5" text-anchor="middle" fill="#3a3a48">1</text>
<text transform="translate(667.57,179.8) rotate(-90)" font-size="6.5" text-anchor="middle" fill="#3a3a48">2</text>
<text transform="translate(631.05,193.5) rotate(-90)" font-size="7.0" text-anchor="end" fill="#3a3a48">BLU/YEL</text>
<text transform="translate(667.75,193.5) rotate(-90)" font-size="7.0" text-anchor="end" fill="#3a3a48">BLU/BRN</text>
<text transform="translate(702.17,213.4) rotate(-90)" font-size="6.5" text-anchor="middle" fill="#3a3a48">2</text>
<text transform="translate(737.37,213.4) rotate(-90)" font-size="6.5" text-anchor="middle" fill="#3a3a48">1</text>
<text transform="translate(702.75,221.7) rotate(-90)" font-size="7.0" text-anchor="end" fill="#3a3a48">BRN/GRN</text>
<text transform="translate(737.75,221.7) rotate(-90)" font-size="7.0" text-anchor="end" fill="#3a3a48">BLK</text>
<path d="M630.6,273.2 L635,275.5 L639.4,273.2" fill="none" stroke="#444" stroke-width="0.9"/>
<path d="M630.6,276.9 Q635,281.5 639.4,276.9" fill="none" stroke="#444" stroke-width="0.9"/>
<path d="M666,273.2 L670.4,275.5 L674.8,273.2" fill="none" stroke="#444" stroke-width="0.9"/>
<path d="M666,276.9 Q670.4,281.5 674.8,276.9" fill="none" stroke="#444" stroke-width="0.9"/>
<line x1="639.3" y1="277.5" x2="666.5" y2="277.5" stroke="#222" stroke-width="1.1" stroke-dasharray="7.3 3.6"/>
<text transform="translate(632.37,282) rotate(-90)" font-size="6.5" text-anchor="end" fill="#3a3a48">28</text>
<text transform="translate(667.67,282) rotate(-90)" font-size="6.5" text-anchor="end" fill="#3a3a48">27</text>
<rect x="673.6" y="281" width="7.4" height="18" fill="#f3f3f3"/>
<text transform="translate(679.15,282) rotate(-90)" font-size="7.0" text-anchor="end" fill="#3a3a48">X190</text>
<text transform="translate(632.15,310.9) rotate(-90)" font-size="7.0" text-anchor="end" fill="#3a3a48">BLU/YEL</text>
<text transform="translate(667.85,310.9) rotate(-90)" font-size="7.0" text-anchor="end" fill="#3a3a48">BLU/BRN</text>
<circle cx="740.8" cy="279.6" r="2.4" fill="#000"/>
<text x="747.8" y="282.1" font-size="7.0" text-anchor="start" fill="#3a3a48">J124</text>
<text transform="translate(738.35,301) rotate(-90)" font-size="7.0" text-anchor="end" fill="#3a3a48">BLK</text>
<circle cx="740.8" cy="326.0" r="2.3" fill="#000"/>
<line x1="736" y1="328.3" x2="745.6" y2="328.3" stroke="#444" stroke-width="0.9"/>
<line x1="737.7" y1="330.4" x2="744" y2="330.4" stroke="#444" stroke-width="0.9"/>
<line x1="739.4" y1="332.3" x2="742.2" y2="332.3" stroke="#444" stroke-width="0.9"/>
<text x="741.8" y="340" font-size="7.0" text-anchor="middle" fill="#3a3a48">G122</text>
<text x="741.8" y="348.67" font-size="7.0" text-anchor="middle" fill="#3a3a48">(LEFT SIDE</text>
<text x="741.8" y="357.34" font-size="7.0" text-anchor="middle" fill="#3a3a48">OF ENGINE</text>
<text x="741.8" y="366.01" font-size="7.0" text-anchor="middle" fill="#3a3a48">BLOCK)</text>
</g>
</svg>
</body></html>
